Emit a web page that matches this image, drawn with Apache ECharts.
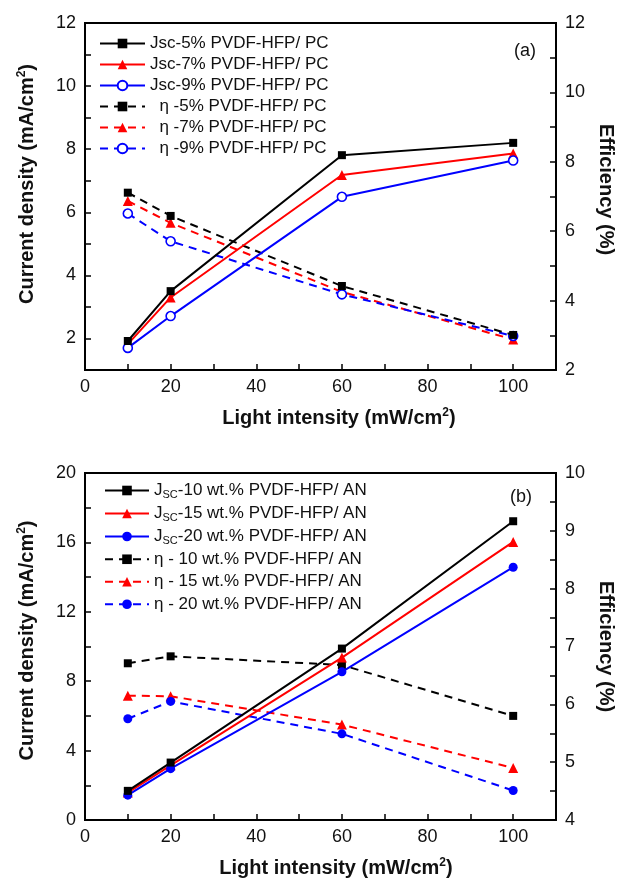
<!DOCTYPE html>
<html>
<head>
<meta charset="utf-8">
<script src="https://cdn.jsdelivr.net/npm/echarts@6/dist/echarts.min.js"></script>
<style>
html,body{margin:0;padding:0;background:#fff;}
#chart{width:624px;height:879px;}
</style>
</head>
<body>
<div id="chart"></div>
<script>
// ---- data ----
const lightIntensity = [10, 20, 60, 100];

// panel (a)
const namesA = ['Jsc-5% PVDF-HFP/ PC', 'Jsc-7% PVDF-HFP/ PC', 'Jsc-9% PVDF-HFP/ PC',
  '  η -5% PVDF-HFP/ PC', '  η -7% PVDF-HFP/ PC', '  η -9% PVDF-HFP/ PC'];
const jsc5 = [1.92, 3.50, 7.81, 8.20];
const jsc7 = [1.82, 3.30, 7.18, 7.86];
const jsc9 = [1.70, 2.71, 6.49, 7.64];
const eta5 = [7.11, 6.44, 4.42, 3.01];
const eta7 = [6.87, 6.24, 4.25, 2.88];
const eta9 = [6.51, 5.71, 4.18, 2.98];

// panel (b)
const namesB = ['JSC-10 wt.% PVDF-HFP/ AN', 'JSC-15 wt.% PVDF-HFP/ AN', 'JSC-20 wt.% PVDF-HFP/ AN',
  'η - 10 wt.% PVDF-HFP/ AN', 'η - 15 wt.% PVDF-HFP/ AN', 'η - 20 wt.% PVDF-HFP/ AN'];
const jsc10 = [1.68, 3.31, 9.88, 17.22];
const jsc15 = [1.58, 3.15, 9.36, 16.03];
const jsc20 = [1.43, 2.96, 8.54, 14.57];
const eta10 = [6.71, 6.83, 6.68, 5.80];
const eta15 = [6.15, 6.14, 5.65, 4.90];
const eta20 = [5.75, 6.05, 5.49, 4.51];

// ---- chart ----
const FONT = 'Liberation Sans, Arial, sans-serif';
const pts = v => lightIntensity.map((x, i) => [x, v[i]]);

function ser(name, vals, color, symbol, size, dashed, xi, yi, hollow, z) {
  return {
    name: name, type: 'line', xAxisIndex: xi, yAxisIndex: yi,
    data: pts(vals), symbol: symbol, symbolSize: size, showAllSymbol: true,
    lineStyle: { color: color, width: 2, type: dashed ? [8, 6] : 'solid' },
    itemStyle: { color: hollow ? '#fff' : color, borderColor: color, borderWidth: hollow ? 1.6 : 0 },
    emphasis: { disabled: true }, animation: false, z: z
  };
}

const tickLbl = { fontSize: 18, color: '#111', fontFamily: FONT };
const nameStyle = (extra) => Object.assign({
  fontSize: 20, fontWeight: 'bold', color: '#111', fontFamily: FONT,
  rich: {
    b: { fontSize: 20, fontWeight: 'bold', color: '#111', fontFamily: FONT },
    sup: { fontSize: 12, fontWeight: 'bold', color: '#111', fontFamily: FONT, verticalAlign: 'top', padding: [0, 0, 10, 0] }
  }
}, extra || {});

function xAx(gi, padLeft) {
  return {
    type: 'value', gridIndex: gi, min: 0, max: 110, interval: 10,
    axisLine: { show: true, lineStyle: { color: '#000', width: 2 } },
    axisTick: { show: true, inside: true, length: 6, lineStyle: { color: '#000', width: 1.5 } },
    axisLabel: Object.assign({}, tickLbl, { margin: 8, showMaxLabel: false,
      formatter: v => (v % 20 === 0 ? String(v) : '') }),
    splitLine: { show: false },
    name: '{b|Light intensity (mW/cm}{sup|2}{b|)}', nameLocation: 'middle', nameGap: 37,
    nameTextStyle: nameStyle({ padding: [0, 0, 0, padLeft] })
  };
}

function yAx(gi, pos, min, max, interval, labelEvery, name, nameGap, pad, rot) {
  return {
    type: 'value', gridIndex: gi, position: pos, min: min, max: max, interval: interval,
    axisLine: { show: true, lineStyle: { color: '#000', width: 2 } },
    axisTick: { show: true, inside: true, length: 6, lineStyle: { color: '#000', width: 1.5 } },
    axisLabel: Object.assign({}, tickLbl, { margin: 9,
      formatter: v => (Math.abs((v / labelEvery) - Math.round(v / labelEvery)) < 1e-6) ? String(Math.round(v * 100) / 100) : '' }),
    splitLine: { show: false },
    name: name, nameLocation: 'middle', nameGap: nameGap, nameRotate: rot,
    nameTextStyle: nameStyle({ padding: pad })
  };
}

const option = {
  backgroundColor: '#fff',
  animation: false,
  grid: [
    { left: 85, right: 62, top: 23, height: 347, show: true, borderColor: '#000', borderWidth: 2, backgroundColor: 'transparent' },
    { left: 85, right: 68, top: 473, height: 349, show: true, borderColor: '#000', borderWidth: 2, backgroundColor: 'transparent' }
  ],
  xAxis: [xAx(0, 37), xAx(1, 31)],
  yAxis: [
    yAx(0, 'left', 1, 12, 1, 2, '{b|Current density (mA/cm}{sup|2}{b|)}', 47, [0, 0, 0, 25], 90),
    yAx(0, 'right', 2, 12, 1, 2, 'Efficiency (%)', 40, [0, 14, 0, 0], -90),
    yAx(1, 'left', 0, 20, 2, 4, '{b|Current density (mA/cm}{sup|2}{b|)}', 47, [0, 0, 0, 12], 90),
    yAx(1, 'right', 4, 10, 0.5, 1, 'Efficiency (%)', 40, [0, 0, 0, 0], -90)
  ],
  legend: [
    {
      data: namesA, orient: 'vertical', left: 94, top: 30,
      itemWidth: 45, itemHeight: 12, itemGap: 4,
      textStyle: { fontSize: 17, color: '#111', fontFamily: FONT, lineHeight: 17 },
      selectedMode: false
    },
    {
      data: namesB, orient: 'vertical', left: 99, top: 476,
      itemWidth: 44, itemHeight: 12, itemGap: 4,
      formatter: n => n.indexOf('JSC') === 0 ? '{t|J}{s|SC}{t|' + n.slice(3) + '}' : '{t|' + n + '}',
      textStyle: {
        fontSize: 17, color: '#111', fontFamily: FONT, lineHeight: 18.5,
        rich: {
          t: { fontSize: 17, color: '#111', fontFamily: FONT, lineHeight: 18.5 },
          s: { fontSize: 11, color: '#111', fontFamily: FONT, lineHeight: 18.5, padding: [8, 0, 0, 0] }
        }
      },
      selectedMode: false
    }
  ],
  graphic: [
    { type: 'text', left: 514, top: 42, style: { text: '(a)', fontSize: 18, fill: '#111', fontFamily: FONT } },
    { type: 'text', left: 510, top: 488, style: { text: '(b)', fontSize: 18, fill: '#111', fontFamily: FONT } }
  ],
  series: [
    ser(namesA[0], jsc5, '#000', 'rect', 8, false, 0, 0, false, 5),
    ser(namesA[1], jsc7, '#ff0000', 'triangle', 10, false, 0, 0, false, 4),
    ser(namesA[2], jsc9, '#0000ff', 'circle', 9, false, 0, 0, true, 4),
    ser(namesA[3], eta5, '#000', 'rect', 8, true, 0, 1, false, 3),
    ser(namesA[4], eta7, '#ff0000', 'triangle', 10, true, 0, 1, false, 2),
    ser(namesA[5], eta9, '#0000ff', 'circle', 9, true, 0, 1, true, 2),
    ser(namesB[0], jsc10, '#000', 'rect', 8, false, 1, 2, false, 5),
    ser(namesB[1], jsc15, '#ff0000', 'triangle', 10, false, 1, 2, false, 4),
    ser(namesB[2], jsc20, '#0000ff', 'circle', 9, false, 1, 2, false, 4),
    ser(namesB[3], eta10, '#000', 'rect', 8, true, 1, 3, false, 3),
    ser(namesB[4], eta15, '#ff0000', 'triangle', 10, true, 1, 3, false, 2),
    ser(namesB[5], eta20, '#0000ff', 'circle', 9, true, 1, 3, false, 2)
  ]
};

const chart = echarts.init(document.getElementById('chart'), null, { renderer: 'canvas' });
chart.setOption(option);
</script>
</body>
</html>
